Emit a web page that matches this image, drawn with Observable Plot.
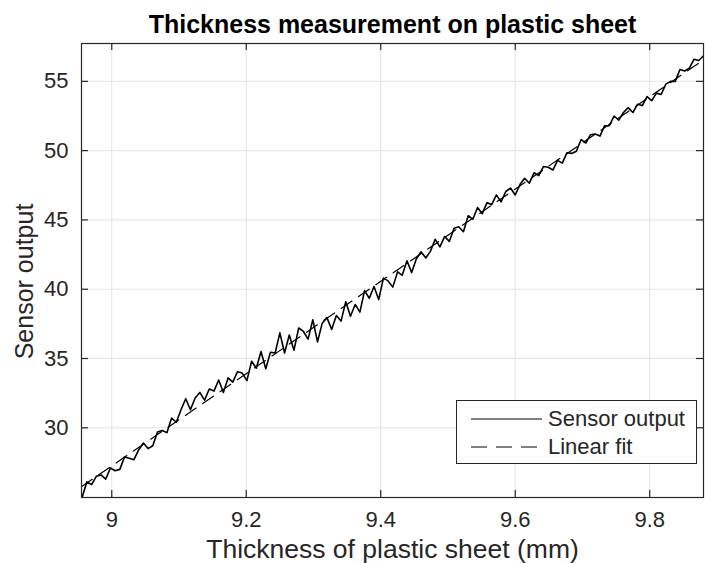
<!DOCTYPE html>
<html><head><meta charset="utf-8">
<script src="https://cdn.jsdelivr.net/npm/d3@7"></script>
<script src="https://cdn.jsdelivr.net/npm/@observablehq/plot@0.6"></script>
<style>
body{margin:0;background:#fff;font-family:"Liberation Sans",Arial,sans-serif;}
#wrap{position:relative;width:705px;height:563px;overflow:hidden;}
#legend{position:absolute;left:456px;top:400px;width:239px;height:62px;border:1px solid #262626;background:#fff;color:#262626;font-size:22px;}
#legend svg{position:absolute;left:0;top:0;}
#legend span{position:absolute;left:91px;line-height:1;white-space:nowrap;}
</style>
</head><body>
<div id="wrap"></div>
<script>
const titleText = "Thickness measurement on plastic sheet";
const xLabel = "Thickness of plastic sheet (mm)";
const yLabel = "Sensor output";
const seriesNames = ["Sensor output", "Linear fit"];
const xTicks = [9, 9.2, 9.4, 9.6, 9.8];
const yTicks = [30, 35, 40, 45, 50, 55];
const xDomain = [8.955, 9.88];
const yDomain = [24.97, 57.73];

const thickness = [8.956, 8.963, 8.970, 8.977, 8.984, 8.991, 8.998, 9.005, 9.012, 9.019,
9.026, 9.033, 9.040, 9.047, 9.054, 9.061, 9.068, 9.075, 9.082, 9.089,
9.096, 9.103, 9.110, 9.117, 9.124, 9.131, 9.138, 9.145, 9.152, 9.159,
9.166, 9.173, 9.180, 9.187, 9.194, 9.201, 9.208, 9.215, 9.222, 9.229,
9.236, 9.243, 9.250, 9.257, 9.264, 9.271, 9.278, 9.285, 9.292, 9.299,
9.306, 9.313, 9.320, 9.327, 9.334, 9.341, 9.348, 9.355, 9.362, 9.369,
9.376, 9.383, 9.390, 9.397, 9.404, 9.411, 9.418, 9.425, 9.432, 9.439,
9.446, 9.453, 9.460, 9.467, 9.474, 9.481, 9.488, 9.495, 9.502, 9.509,
9.516, 9.523, 9.530, 9.537, 9.544, 9.551, 9.558, 9.565, 9.572, 9.579,
9.586, 9.593, 9.600, 9.607, 9.614, 9.621, 9.628, 9.635, 9.642, 9.649,
9.656, 9.663, 9.670, 9.677, 9.684, 9.691, 9.698, 9.705, 9.712, 9.719,
9.726, 9.733, 9.740, 9.747, 9.754, 9.761, 9.768, 9.775, 9.782, 9.789,
9.796, 9.803, 9.810, 9.817, 9.824, 9.831, 9.838, 9.845, 9.852, 9.859,
9.866, 9.873, 9.880];

const sensorOutput = [25.0, 26.1, 25.9, 26.5, 26.6, 26.3, 27.1, 26.9, 27.0, 27.9,
27.8, 27.7, 28.4, 28.9, 28.5, 28.7, 29.7, 29.8, 29.65, 30.7,
30.4, 31.3, 32.1, 31.3, 32.15, 32.55, 32.0, 32.8, 32.65, 33.45,
32.55, 33.6, 33.3, 34.05, 33.95, 33.4, 34.8, 34.3, 35.5, 34.25,
35.45, 35.4, 36.85, 35.4, 36.7, 35.6, 37.2, 36.95, 36.4, 37.8,
36.2, 37.55, 37.95, 37.1, 38.1, 37.7, 39.1, 38.05, 38.9, 38.35,
39.9, 39.35, 40.2, 39.25, 40.8, 40.6, 40.15, 41.25, 41.0, 42.05,
41.2, 42.2, 42.7, 42.25, 42.75, 43.6, 43.05, 43.8, 43.45, 44.4,
44.5, 44.15, 45.3, 45.05, 45.9, 45.45, 46.25, 46.1, 46.8, 46.3,
47.05, 47.3, 46.8, 47.55, 48.0, 47.65, 48.4, 48.2, 48.85, 48.8,
48.6, 49.3, 49.1, 49.85, 49.8, 49.95, 50.8, 50.55, 51.15, 51.2,
51.05, 51.8, 51.8, 52.5, 52.2, 52.75, 53.1, 52.75, 53.35, 53.25,
53.9, 53.6, 54.15, 54.05, 54.8, 55.0, 55.0, 55.85, 55.75, 55.95,
56.6, 56.5, 56.85];

const fitX = [8.955, 9.88];
const fitY = [25.75, 56.55];

const sensorData = thickness.map((x, i) => ({x, y: sensorOutput[i]}));
const fitData = fitX.map((x, i) => ({x, y: fitY[i]}));

const W = 705, H = 563, mL = 81, mR = 2, mT = 43, mB = 66;
const fw = W - mL - mR, fh = H - mT - mB;
const ink = "#262626";

const chart = Plot.plot({
  width: W, height: H,
  marginLeft: mL, marginRight: mR, marginTop: mT, marginBottom: mB,
  style: {fontFamily: '"Liberation Sans", Arial, sans-serif', color: ink, background: "#fff"},
  x: {domain: xDomain},
  y: {domain: yDomain},
  marks: [
    Plot.gridX(xTicks, {stroke: "#e3e3e3", strokeOpacity: 1}),
    Plot.gridY(yTicks, {stroke: "#e3e3e3", strokeOpacity: 1}),
    Plot.line(fitData, {x: "x", y: "y", stroke: "#000", strokeWidth: 1.2, strokeDasharray: "13,8", clip: true}),
    Plot.line(sensorData, {x: "x", y: "y", stroke: "#000", strokeWidth: 1.6, clip: true}),
    Plot.frame({stroke: ink, strokeWidth: 1.2}),
    Plot.ruleX(xTicks, {x: d => d, insetTop: fh - 7, stroke: ink, strokeWidth: 1.2}),
    Plot.ruleX(xTicks, {x: d => d, insetBottom: fh - 7, stroke: ink, strokeWidth: 1.2}),
    Plot.ruleY(yTicks, {y: d => d, insetRight: fw - 7, stroke: ink, strokeWidth: 1.2}),
    Plot.ruleY(yTicks, {y: d => d, insetLeft: fw - 7, stroke: ink, strokeWidth: 1.2}),
    Plot.axisX(xTicks, {tickSize: 0, tickPadding: 14, fontSize: 22, label: null, tickFormat: d => `${d}`, fill: ink}),
    Plot.axisY(yTicks, {tickSize: 0, tickPadding: 13, fontSize: 22, label: null, tickFormat: d => `${d}`, fill: ink}),
    Plot.text([titleText], {text: d => d, frameAnchor: "top", lineAnchor: "middle", dy: -19, fontSize: 25, fontWeight: "bold", fill: "#000"}),
    Plot.text([xLabel], {text: d => d, frameAnchor: "bottom", lineAnchor: "middle", dy: 52, fontSize: 26.5, fill: ink}),
    Plot.text([yLabel], {text: d => d, frameAnchor: "left", textAnchor: "middle", lineAnchor: "middle", dx: -57, dy: 11, rotate: -90, fontSize: 25, fill: ink})
  ]
});
const wrap = document.getElementById("wrap");
wrap.appendChild(chart);

const legend = document.createElement("div");
legend.id = "legend";
legend.innerHTML = `<svg width="239" height="62">
  <line x1="14" x2="85" y1="18" y2="18" stroke="#000" stroke-width="1.2"/>
  <line x1="14" x2="85" y1="46" y2="46" stroke="#000" stroke-width="1.2" stroke-dasharray="16,9"/>
</svg>
<span style="top:7px">${seriesNames[0]}</span>
<span style="top:35px">${seriesNames[1]}</span>`;
wrap.appendChild(legend);
</script>
</body></html>
